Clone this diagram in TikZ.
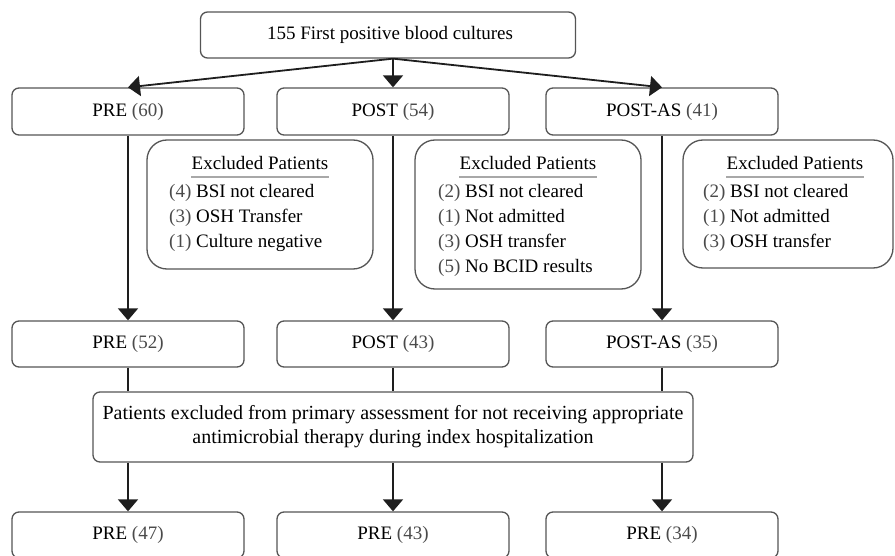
\documentclass[tikz,border=0pt]{standalone}
\usepackage{fontspec}
\setmainfont{Liberation Serif}
\usetikzlibrary{arrows.meta}
\definecolor{boxgray}{HTML}{555555}
\definecolor{numgray}{HTML}{4A4A4A}
\definecolor{linegray}{HTML}{1E1E1E}
\definecolor{ulgray}{HTML}{A8A8A8}
\newcommand{\nm}[1]{\textcolor{numgray}{(#1)}}
\tikzset{
  every node/.style={font=\fontsize{19}{23}\selectfont, inner sep=0pt},
  box/.style={draw=boxgray, line width=1.3pt, rounded corners=7pt, minimum width=232pt, minimum height=47pt},
  exbox/.style={draw=boxgray, line width=1.3pt, rounded corners=20pt},
  exhead/.style={anchor=base},
  exline/.style={anchor=base west},
  arr/.style={draw=linegray, line width=1.8pt, -{Triangle[length=12pt,width=20pt]}},
  conn/.style={draw=linegray, line width=1.8pt},
  uline/.style={draw=ulgray, line width=1.2pt}
}
\begin{document}
\begin{tikzpicture}[x=1pt,y=-1pt]
\useasboundingbox (0,0) rectangle (895,556);
% top
\node[box, minimum width=375pt, minimum height=46pt] (top) at (388,35) {\hspace*{4pt}155 First positive blood cultures};
% row 1
\node[box] (pre60) at (128,111.5) {PRE \nm{60}};
\node[box] (post54) at (393,111.5) {POST \nm{54}};
\node[box] (postas41) at (662,111.5) {POST-AS \nm{41}};
\coordinate (split) at (post54.north |- top.south);
\draw[arr] (split) -- (pre60.north);
\draw[arr] (split) -- (post54.north);
\draw[arr] (split) -- (postas41.north);
% excluded boxes
\node[exbox, minimum width=226pt, minimum height=129pt] (ex1) at (260,204.5) {};
\node[exhead] (ex1h) at (260,169.5) {Excluded Patients};
\draw[uline] ([yshift=-7.5pt]ex1h.base west) -- ([yshift=-7.5pt]ex1h.base east);
\node[exline] (ex1a) at (169,197.5) {\nm{4} BSI not cleared};
\node[exline] (ex1b) at (169,222.5) {\nm{3} OSH Transfer};
\node[exline] (ex1c) at (169,247.5) {\nm{1} Culture negative};

\node[exbox, minimum width=226pt, minimum height=149pt] (ex2) at (528,214.5) {};
\node[exhead] (ex2h) at (528,169.5) {Excluded Patients};
\draw[uline] ([yshift=-7.5pt]ex2h.base west) -- ([yshift=-7.5pt]ex2h.base east);
\node[exline] (ex2a) at (438,197.5) {\nm{2} BSI not cleared};
\node[exline] (ex2b) at (438,222.5) {\nm{1} Not admitted};
\node[exline] (ex2c) at (438,247.5) {\nm{3} OSH transfer};
\node[exline] (ex2d) at (438,272.5) {\nm{5} No BCID results};

\node[exbox, minimum width=210pt, minimum height=128pt] (ex3) at (788,204) {};
\node[exhead] (ex3h) at (795,169.5) {Excluded Patients};
\draw[uline] ([yshift=-7.5pt]ex3h.base west) -- ([yshift=-7.5pt]ex3h.base east);
\node[exline] (ex3a) at (703,197.5) {\nm{2} BSI not cleared};
\node[exline] (ex3b) at (703,222.5) {\nm{1} Not admitted};
\node[exline] (ex3c) at (703,247.5) {\nm{3} OSH transfer};
% row 2
\node[box, minimum height=46pt] (pre52) at (128,344) {PRE \nm{52}};
\node[box, minimum height=46pt] (post43) at (393,344) {POST \nm{43}};
\node[box, minimum height=46pt] (postas35) at (662,344) {POST-AS \nm{35}};
\draw[arr] (pre60.south) -- (pre52.north);
\draw[arr] (post54.south) -- (post43.north);
\draw[arr] (postas41.south) -- (postas35.north);
% patients excluded
\node[box, minimum width=600pt, minimum height=70pt, align=center, font=\fontsize{20}{24}\selectfont] (pat) at (393,427)
  {Patients excluded from primary assessment for not receiving appropriate\\antimicrobial therapy during index hospitalization};
\draw[conn] (pre52.south) -- (pre52.south |- pat.north);
\draw[conn] (post43.south) -- (post43.south |- pat.north);
\draw[conn] (postas35.south) -- (postas35.south |- pat.north);
% row 3
\node[box, minimum height=46pt] (pre47) at (128,535) {PRE \nm{47}};
\node[box, minimum height=46pt] (pre43) at (393,535) {PRE \nm{43}};
\node[box, minimum height=46pt] (pre34) at (662,535) {PRE \nm{34}};
\draw[arr] (pre47.north |- pat.south) -- (pre47.north);
\draw[arr] (pre43.north |- pat.south) -- (pre43.north);
\draw[arr] (pre34.north |- pat.south) -- (pre34.north);
\end{tikzpicture}
\end{document}
